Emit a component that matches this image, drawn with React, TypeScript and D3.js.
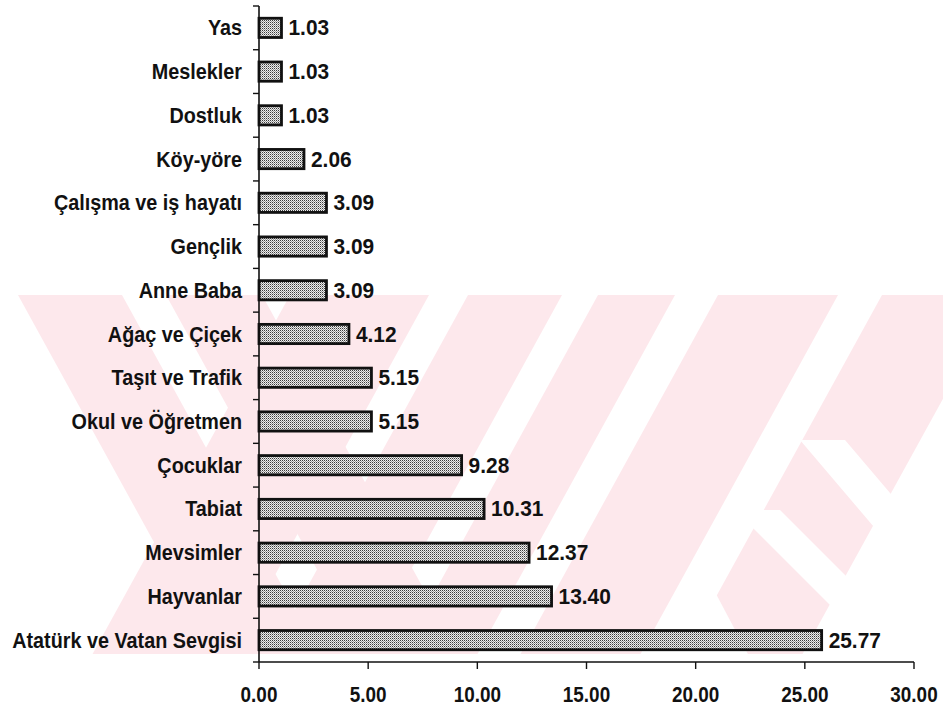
import React from 'react';
import * as d3 from 'd3';

const categories = [
  'Yas',
  'Meslekler',
  'Dostluk',
  'Köy-yöre',
  'Çalışma ve iş hayatı',
  'Gençlik',
  'Anne Baba',
  'Ağaç ve Çiçek',
  'Taşıt ve Trafik',
  'Okul ve Öğretmen',
  'Çocuklar',
  'Tabiat',
  'Mevsimler',
  'Hayvanlar',
  'Atatürk ve Vatan Sevgisi',
];
const values = [1.03, 1.03, 1.03, 2.06, 3.09, 3.09, 3.09, 4.12, 5.15, 5.15, 9.28, 10.31, 12.37, 13.4, 25.77];
const xTicks = [0, 5, 10, 15, 20, 25, 30];

const W = 943;
const H = 709;
const FONT = "'Liberation Sans', Arial, sans-serif";

// decorative watermark stripes: [x0 at top, x1 at top, slope dx/dy]
const wmTop = 295;
const wmBottom = 654;
const wmStripes: [number, number, number][] = [
  [18, 122, 0.55],
  [166, 262, 0.55],
  [290, 429, -0.55],
  [468, 562, -0.55],
  [598, 675, -0.55],
  [718, 838, -0.55],
  [882, 1000, -0.55],
];
const wmGaps: [number, number, number, number][] = [
  // x0, x1 at y, y, slope
  [800, 845, 440, 0.85],
  [735, 780, 510, 1.0],
];
const wmApex: [number, number] = [697, 558];

function stripePoly(x0: number, x1: number, s: number, yTop: number, yBot: number) {
  const d = (yBot - yTop) * s;
  return `${x0},${yTop} ${x1},${yTop} ${x1 + d},${yBot} ${x0 + d},${yBot}`;
}

export default function App() {
  const x = d3.scaleLinear().domain([0, 30]).range([259, 914]);
  const y = d3
    .scaleBand<string>()
    .domain(categories)
    .range([6, 662])
    .paddingInner(0.56)
    .paddingOuter(0.28);
  const step = y.step();
  const bw = y.bandwidth();
  const y0 = 6;
  const yEnd = 662;
  const bandTicks = d3.range(categories.length + 1).map((i) => y0 + i * step);
  const apexH = wmBottom - wmApex[1];

  return (
    <svg
      width={W}
      height={H}
      style={{ position: 'absolute', left: 0, top: 0, background: '#fff' }}
      fontFamily={FONT}
    >
      <defs>
        <pattern id="dots" width={2} height={2} patternUnits="userSpaceOnUse">
          <rect width={2} height={2} fill="#eeeeee" />
          <rect x={0} y={0} width={1} height={1} fill="#3a3a3a" />
          <rect x={1} y={1} width={1} height={1} fill="#9a9a9a" />
        </pattern>
        <clipPath id="wmclip">
          <rect x={15} y={wmTop} width={W - 15} height={wmBottom - wmTop} />
        </clipPath>
      </defs>
      <rect width={W} height={H} fill="#fff" />

      {/* watermark */}
      <g clipPath="url(#wmclip)">
        {wmStripes.map(([a, b, s], i) => (
          <polygon key={i} points={stripePoly(a, b, s, wmTop, wmBottom)} fill="#fde8ec" />
        ))}
        {wmGaps.map(([a, b, yy, s], i) => (
          <polygon key={'g' + i} points={stripePoly(a, b, s, yy, wmBottom)} fill="#ffffff" />
        ))}
        <polygon
          points={`${wmApex[0]},${wmApex[1]} ${wmApex[0] + apexH * 0.53},${wmBottom} ${wmApex[0] - apexH * 0.53},${wmBottom}`}
          fill="#ffffff"
        />
      </g>

      {/* bars */}
      {categories.map((c, i) => (
        <rect
          key={c}
          x={x(0)}
          y={y(c)!}
          width={x(values[i]) - x(0)}
          height={bw}
          fill="url(#dots)"
          stroke="#111"
          strokeWidth={2.8}
        />
      ))}

      {/* y axis */}
      <line x1={x(0)} x2={x(0)} y1={y0} y2={yEnd} stroke="#111" strokeWidth={1.6} />
      {bandTicks.map((t, i) => (
        <line key={i} x1={x(0) - 6} x2={x(0)} y1={t} y2={t} stroke="#111" strokeWidth={1.4} />
      ))}

      {/* x axis */}
      <line x1={x(0)} x2={x(30)} y1={yEnd} y2={yEnd} stroke="#111" strokeWidth={1.6} />
      {xTicks.map((t) => (
        <g key={t}>
          <line x1={x(t)} x2={x(t)} y1={yEnd} y2={yEnd + 7} stroke="#111" strokeWidth={1.4} />
          <g transform={`translate(${x(t)},702) scale(0.86,1)`}>
            <text textAnchor="middle" fontSize={22} fontWeight="bold" fill="#111">
              {d3.format('.2f')(t)}
            </text>
          </g>
        </g>
      ))}

      {/* category labels */}
      {categories.map((c) => (
        <g key={'l' + c} transform={`translate(242,${y(c)! + bw / 2 + 7.5}) scale(0.9,1)`}>
          <text textAnchor="end" fontSize={22} fontWeight="bold" fill="#111">
            {c}
          </text>
        </g>
      ))}

      {/* value labels */}
      {categories.map((c, i) => (
        <g key={'v' + c} transform={`translate(${x(values[i]) + 7},${y(c)! + bw / 2 + 7.5}) scale(0.95,1)`}>
          <text textAnchor="start" fontSize={22} fontWeight="bold" fill="#111">
            {d3.format('.2f')(values[i])}
          </text>
        </g>
      ))}
    </svg>
  );
}
